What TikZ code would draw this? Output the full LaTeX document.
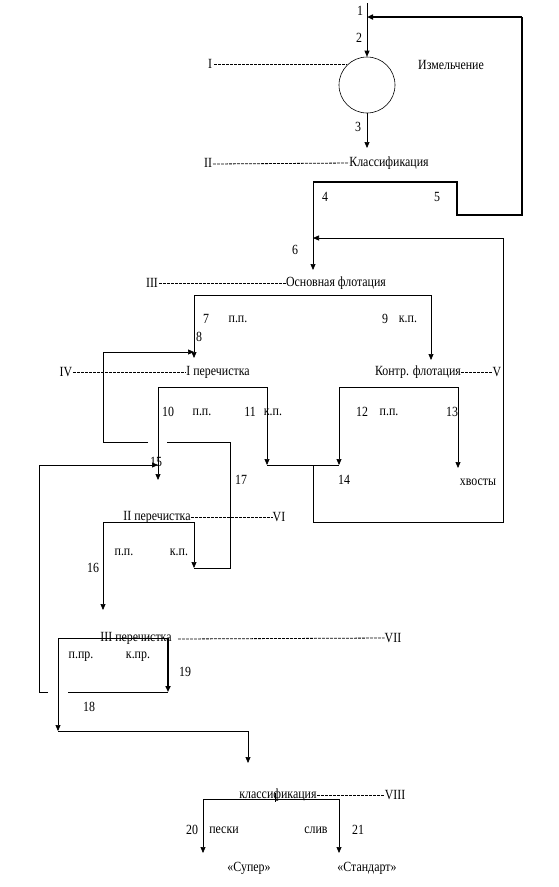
\documentclass[tikz,border=0pt]{standalone}
\usepackage{fontspec}
\setmainfont{Liberation Serif}[FakeStretch=0.85]
\usetikzlibrary{arrows.meta}
\tikzset{
  lbl/.style={inner sep=0pt, font=\fontsize{14}{16}\selectfont},
  flow/.style={line width=0.7pt},
  thick flow/.style={line width=1.6pt},
  arr/.style={flow, -{Triangle[length=6pt,width=5pt]}},
  tharr/.style={thick flow, -{Triangle[length=6pt,width=5pt]}},
  lead/.style={line width=0.8pt, dash pattern=on 2.8pt off 1.2pt},
}
\begin{document}
\begin{tikzpicture}[x=1pt,y=-1pt]
\useasboundingbox (0,0) rectangle (558,887);
\fill[white] (0,0) rectangle (558,887);

% ---------- grinding ----------
\node[circle,draw,line width=0.6pt,minimum size=56pt,inner sep=0pt] (mill) at (367,85) {};
\coordinate (feed) at (367,3);
\draw[arr] (feed) -- (mill.north);
\node[lbl] (n1) at (360,11) {1};
\node[lbl] (n2) at (359,38) {2};
\node[lbl] (tmill) at (451,65) {Измельчение};
\node[lbl] (r1) at (210,64) {I};
\coordinate (millI) at (mill.134);
\draw[lead] ([xshift=2pt]r1.east |- millI) -- (millI);

\coordinate (cls1) at (367,148);
\draw[arr] (mill.south) -- (cls1);
\node[lbl] (n3) at (358,127) {3};
\node[lbl] (r2) at (208,163) {II};
\node[lbl] (tcls1) at (389,163) {Классификация};
\draw[lead] (213,164) -- (tcls1.west);

% classification products 4 and 5
\coordinate (c4) at (313,182);
\coordinate (c5a) at (457,182);
\coordinate (c5b) at (457,215);
\coordinate (c5c) at (522,215);
\coordinate (c5d) at (522,17);
\coordinate (c5e) at (367,17);
\draw[thick flow] (c4) -- (c5a) -- (c5b) -- (c5c) -- (c5d);
\draw[tharr] (c5d) -- (c5e);
\node[lbl] (n4) at (325,197) {4};
\node[lbl] (n5) at (437,197) {5};

% ---------- rougher flotation ----------
\coordinate (rf) at (313,270);
\draw[arr] (c4) -- (rf);
\node[lbl] (n6) at (295,250) {6};
\node[lbl] (r3) at (152,283) {III};
\node[lbl] (trf) at (336,283) {Основная флотация};
\draw[lead] (r3.east) ++(1,0) -- (trf.west);
\coordinate (rfl) at (194,295);
\coordinate (rfr) at (431,295);
\coordinate (cl1) at (194,358);
\coordinate (scv) at (431,360);
\draw[flow] (rfl) -- (rfr);
\draw[arr] (rfl) -- (cl1);
\draw[arr] (rfr) -- (scv);
\node[lbl] (n7) at (206,319) {7};
\node[lbl] (pp7) at (238,319) {п.п.};
\node[lbl] (n8) at (199,337) {8};
\node[lbl] (n9) at (385,319) {9};
\node[lbl] (kp9) at (408,319) {к.п.};

% ---------- I cleaning and scavenger ----------
\node[lbl] (r4) at (66,372) {IV};
\node[lbl] (tcl1) at (218,372) {I перечистка};
\draw[lead] (r4.east) ++(1,0) -- (tcl1.west);
\node[lbl] (tscv) at (418,372) {Контр. флотация};
\node[lbl] (r5) at (497,372) {V};
\draw[lead] (tscv.east) -- (r5.west);

\coordinate (cl1l) at (158,387);
\coordinate (cl1r) at (267,387);
\coordinate (cl2in) at (158,480);
\coordinate (j11) at (267,465);
\draw[flow] (cl1l) -- (cl1r);
\draw[arr] (cl1l) -- (cl2in);
\draw[arr] (cl1r) -- (j11);

\coordinate (scvl) at (339,387);
\coordinate (scvr) at (458,387);
\coordinate (j12) at (339,465);
\coordinate (tail) at (458,468);
\draw[flow] (scvl) -- (scvr);
\draw[arr] (scvl) -- (j12);
\draw[arr] (scvr) -- (tail);

\node[lbl] (n10) at (168,412) {10};
\node[lbl] (pp10) at (202,412) {п.п.};
\node[lbl] (n11) at (250,412) {11};
\node[lbl] (kp11) at (273,412) {к.п.};
\node[lbl] (n12) at (362,412) {12};
\node[lbl] (pp12) at (389,412) {п.п.};
\node[lbl] (n13) at (452,412) {13};

% stream 14 back to rougher
\coordinate (j14) at (313,465);
\coordinate (r14a) at (313,522);
\coordinate (r14b) at (503,522);
\coordinate (r14c) at (503,238);
\coordinate (r14d) at (313,238);
\draw[flow] (j11) -- (j12);
\draw[flow] (j14) -- (r14a) -- (r14b) -- (r14c);
\draw[arr] (r14c) -- (r14d);
\node[lbl] (n14) at (344,480) {14};
\node[lbl] (ttail) at (478,482) {хвосты};

% ---------- II cleaning ----------
\node[lbl] (tcl2) at (157,517) {II перечистка};
\node[lbl] (r6) at (279,517) {VI};
\draw[lead] (tcl2.east) -- (r6.west);
\coordinate (cl2l) at (103,522);
\coordinate (cl2r) at (194,522);
\coordinate (cl3in) at (103,610);
\coordinate (k17) at (194,568);
\draw[flow] (cl2l) -- (cl2r);
\draw[arr] (cl2l) -- (cl3in);
\draw[arr] (cl2r) -- (k17);
\node[lbl] (pp16) at (124,552) {п.п.};
\node[lbl] (kp17) at (179,552) {к.п.};
\node[lbl] (n16) at (93,568) {16};

% stream 17 back to I cleaning
\coordinate (s17a) at (230,568);
\coordinate (s17b) at (230,442);
\coordinate (s17c) at (167,442);
\coordinate (s17d) at (148,442);
\coordinate (s17e) at (103,442);
\coordinate (s17f) at (103,352);
\coordinate (s17g) at (194,352);
\draw[flow] (k17) -- (s17a) -- (s17b) -- (s17c);
\draw[flow] (s17d) -- (s17e) -- (s17f);
\draw[arr] (s17f) -- (s17g);
\node[lbl] (n17) at (241,480) {17};

% ---------- III cleaning ----------
\node[lbl] (tcl3) at (136,638) {III перечистка};
\node[lbl] (r7) at (393,638) {VII};
\draw[lead] (178,639) -- (r7.west);
\coordinate (cl3l) at (58,638);
\coordinate (cl3r) at (168,638);
\coordinate (s19) at (168,692);
\draw[flow] (cl3l) -- (cl3r);
\draw[tharr] (cl3r) -- (s19);
\node[lbl] (ppr) at (81,657) {п.пр.};
\node[lbl] (kpr) at (138,657) {к.пр.};
\node[lbl] (n19) at (185,672) {19};

% stream 18 back to II cleaning
\coordinate (s18a) at (68,692);
\coordinate (s18b) at (48,692);
\coordinate (s18c) at (39,692);
\coordinate (s18d) at (39,465);
\coordinate (s18e) at (158,465);
\draw[flow] (s19) -- (s18a);
\draw[flow] (s18b) -- (s18c) -- (s18d);
\draw[arr] (s18d) -- (s18e);
\node[lbl] (n15) at (156,462) {15};
\node[lbl] (n18) at (89,707) {18};

% concentrate to final classification
\coordinate (c3down) at (58,731);
\coordinate (c3r) at (248,731);
\coordinate (fcin) at (248,763);
\draw[arr] (cl3l) -- (c3down);
\draw[flow] (c3down) -- (c3r);
\draw[arr] (c3r) -- (fcin);

% ---------- final classification ----------
\node[lbl] (tfc) at (278,795) {классификация};
\node[lbl] (r8) at (395,795) {VIII};
\draw[lead] (tfc.east) -- (r8.west);
\coordinate (fcl) at (203,799);
\coordinate (fcr) at (339,799);
\coordinate (fct) at (275,793);
\coordinate (fcb) at (275,802);
\draw[flow] (fcl) -- (fcr);
\draw[flow] (fct) -- (fcb);
\coordinate (sup) at (203,853);
\coordinate (std) at (339,853);
\draw[arr] (fcl) -- (sup);
\draw[arr] (fcr) -- (std);
\node[lbl] (n20) at (192,830) {20};
\node[lbl] (tsand) at (224,830) {пески};
\node[lbl] (tslime) at (316,830) {слив};
\node[lbl] (n21) at (358,830) {21};
\node[lbl] (tsup) at (249,868) {«Супер»};
\node[lbl] (tstd) at (367,868) {«Стандарт»};
\end{tikzpicture}
\end{document}
